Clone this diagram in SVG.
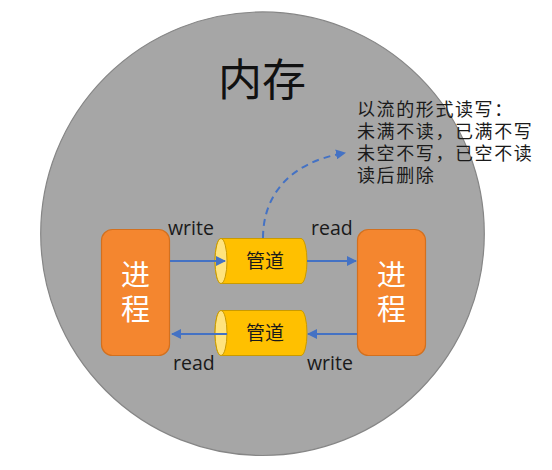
<svg xmlns="http://www.w3.org/2000/svg" width="552" height="470" viewBox="0 0 552 470">
  <defs>
    <marker id="arrow" viewBox="0 0 10 10" refX="9" refY="5" markerWidth="5" markerHeight="5" orient="auto">
      <path d="M0,0 L10,5 L0,10 Z" fill="#4472C4"/>
    </marker>
    <style>
      .proc { fill: #F4862F; stroke: #D2701F; stroke-width: 1.2; }
      .proc-text { font-family: "Liberation Sans", "Noto Sans CJK SC", sans-serif; font-size: 29px; fill: #ffffff; text-anchor: middle; }
      .pipe { fill: #FFC000; stroke: #C99A00; stroke-width: 1; }
      .pipe-cap { fill: #FFE37E; stroke: #C99A00; stroke-width: 1; }
      .pipe-text { font-family: "Liberation Sans", "Noto Sans CJK SC", sans-serif; font-size: 19px; fill: #1a1a1a; text-anchor: middle; }
      .flow { stroke: #4472C4; stroke-width: 2; fill: none; marker-end: url(#arrow); }
      .label { font-family: "Open Sans", "Liberation Sans", sans-serif; font-size: 19.5px; fill: #1a1a1a; }
      .note { font-family: "Liberation Sans", "Noto Sans CJK SC", sans-serif; font-size: 18px; letter-spacing: 1.6px; fill: #1a1a1a; }
    </style>
  </defs>

  <rect width="552" height="470" fill="#ffffff"/>

  <!-- memory region -->
  <g id="memory">
    <circle cx="262.5" cy="233.7" r="221.8" fill="#A6A6A6" stroke="#868686" stroke-width="1.2"/>
    <text x="262" y="96" font-family="Liberation Sans, Noto Sans CJK SC, sans-serif" font-size="44" fill="#111" text-anchor="middle">内存</text>
  </g>

  <!-- left process -->
  <g id="process-left">
    <rect class="proc" x="101.5" y="229.5" width="68" height="126" rx="11"/>
    <text class="proc-text" x="135.5" y="286">进</text>
    <text class="proc-text" x="135.5" y="320">程</text>
  </g>

  <!-- right process -->
  <g id="process-right">
    <rect class="proc" x="357.5" y="229.5" width="68" height="126" rx="11"/>
    <text class="proc-text" x="391.5" y="286">进</text>
    <text class="proc-text" x="391.5" y="320">程</text>
  </g>

  <!-- upper pipe -->
  <g id="pipe-top">
    <path class="pipe" d="M221,238.5 H301 A6,22.5 0 0 1 301,283.5 H221 A6,22.5 0 0 1 221,238.5 Z"/>
    <ellipse class="pipe-cap" cx="221" cy="261" rx="6" ry="22.5"/>
    <text class="pipe-text" x="265" y="268">管道</text>
  </g>

  <!-- lower pipe -->
  <g id="pipe-bottom">
    <path class="pipe" d="M221,310.5 H301 A6,22.5 0 0 1 301,355.5 H221 A6,22.5 0 0 1 221,310.5 Z"/>
    <ellipse class="pipe-cap" cx="221" cy="333" rx="6" ry="22.5"/>
    <text class="pipe-text" x="265" y="340">管道</text>
  </g>

  <!-- note -->
  <g id="note">
    <text class="note" x="357" y="116">以流的形式读写：</text>
    <text class="note" x="357" y="138">未满不读，已满不写</text>
    <text class="note" x="357" y="160">未空不写，已空不读</text>
    <text class="note" x="357" y="182">读后删除</text>
  </g>

  <!-- connectors -->
  <g id="connectors">
    <line class="flow" x1="170" y1="261" x2="225" y2="261"/>
    <line class="flow" x1="307" y1="261" x2="356" y2="261"/>
    <line class="flow" x1="357" y1="334" x2="308" y2="334"/>
    <line class="flow" x1="227" y1="334" x2="172" y2="334"/>
    <path class="flow" stroke-dasharray="7,5" d="M263,238 C263,195 290,162 345,153"/>
    <text class="label" x="168" y="235">write</text>
    <text class="label" x="311" y="235">read</text>
    <text class="label" x="173" y="370">read</text>
    <text class="label" x="307" y="370">write</text>
  </g>
</svg>
